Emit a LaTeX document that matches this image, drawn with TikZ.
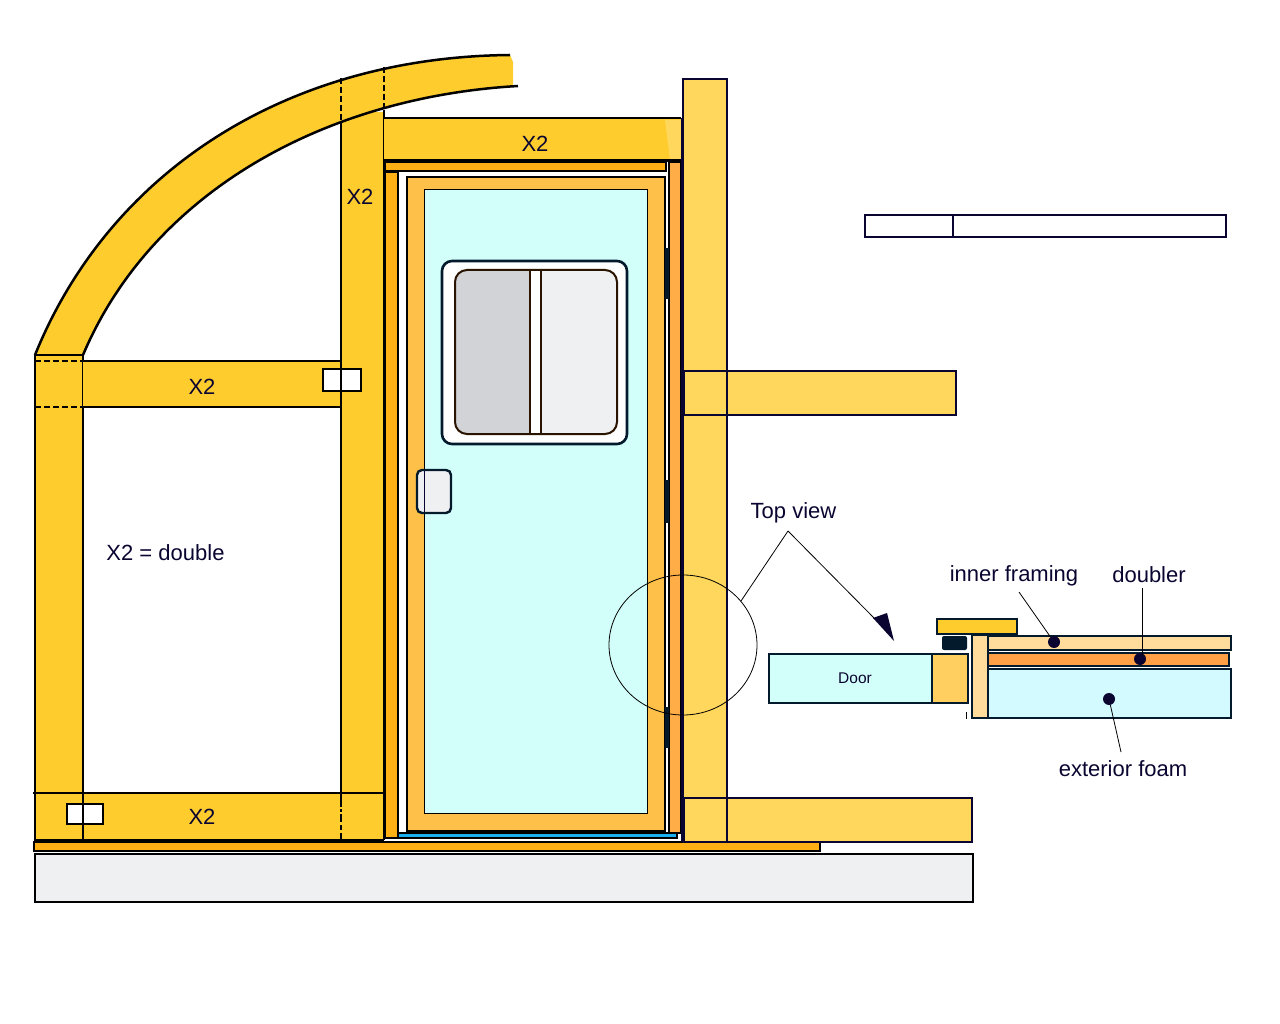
\documentclass[tikz,border=0pt]{standalone}
\usepackage{fontspec}
\setmainfont{Liberation Sans}
\usetikzlibrary{arrows.meta,shapes.geometric}
\definecolor{ink}{HTML}{0A0530}
\definecolor{deep}{HTML}{021A2C}
\definecolor{brownink}{HTML}{2A1400}
\definecolor{gold}{HTML}{FFCC2E}
\definecolor{paleyellow}{HTML}{FFD75C}
\definecolor{frameorange}{HTML}{FFC04A}
\definecolor{darkorange}{HTML}{FFB014}
\definecolor{midorange}{HTML}{FFAE47}
\definecolor{brightorange}{HTML}{FFA047}
\definecolor{aqua}{HTML}{D3FFFB}
\definecolor{foam}{HTML}{D3FBFF}
\definecolor{ltgray}{HTML}{EFF0F2}
\definecolor{dkgray}{HTML}{D1D3D7}
\definecolor{sky}{HTML}{1AB0F0}
\definecolor{peach}{HTML}{FFDC9C}
\definecolor{doorblock}{HTML}{FFD060}
\tikzset{
  lumber/.style={draw=black,line width=2.3pt,fill=gold},
  paleboard/.style={draw=ink,line width=2.2pt,fill=paleyellow},
  hidden/.style={draw=black,line width=1.5pt,dash pattern=on 6pt off 3pt},
  lab/.style={text=ink,font=\fontsize{22}{24}\selectfont,inner sep=0pt},
  leader/.style={draw=black,line width=0.8pt},
  detail/.style={draw=deep,line width=2.2pt},
  dot/.style={circle,fill=ink,draw=none,minimum size=12pt,inner sep=0pt}
}
\begin{document}
\begin{tikzpicture}[x=1pt,y=-1pt]
\useasboundingbox (0,0) rectangle (1280,1024);
% slab and floor strip
\draw[draw=black,line width=2.2pt,fill=ltgray] (35,854) rectangle (973,902);
\draw[draw=black,line width=2.2pt,fill=darkorange] (34,842) rectangle (820,851);
% arch fill
\fill[gold] (35,355) .. controls (110,170) and (288,57) .. (510,55) -- (513,62) -- (513,86)
  .. controls (325,97) and (152,192) .. (83,355) -- cycle;
% left post and rails
\draw[lumber] (35,355) rectangle (83,840);
\fill[gold] (83,361) rectangle (341,407);
\draw[black,line width=2.3pt] (83,361) -- (341,361) (83,407) -- (341,407);
\draw[hidden] (35,361) -- (83,361) (35,407) -- (83,407);
% stud
\fill[gold] (341,112) rectangle (384,840);
\draw[black,line width=2.3pt] (341,125) -- (341,793) (384,110) -- (384,840);
\draw[hidden] (341,78) -- (341,125) (384,67) -- (384,110);
% arch outline
\draw[black,line width=2.5pt] (35,355) .. controls (110,170) and (288,57) .. (510,55);
\draw[black,line width=2.5pt] (83,355) .. controls (152,192) and (325,97) .. (518,86);
% bottom rail
\fill[gold] (35,793) rectangle (384,840);
\draw[black,line width=2.3pt] (33,793) -- (384,793) (35,793) -- (35,840) (83,793) -- (83,840) (384,793) -- (384,840);
\draw[black,line width=2.8pt] (35,840) -- (384,840);
\draw[black,line width=1.5pt,dash pattern=on 14pt off 2pt on 3pt off 2pt on 8pt off 3pt on 5pt off 3pt] (341,793) -- (341,840);
% small white tabs
\draw[draw=black,line width=2.3pt,fill=white] (323,369) rectangle (361,391);
\draw[black,line width=2.3pt] (341,369) -- (341,391);
\draw[draw=black,line width=2.3pt,fill=white] (67,804) rectangle (103,824);
\draw[black,line width=2.3pt] (83,804) -- (83,824);
% header
\fill[gold] (384,118) rectangle (681,161);
\fill[paleyellow] (665,120) -- (681,120) -- (681,160) -- (670,160) -- cycle;
\draw[black,line width=2.3pt] (384,118) -- (681,118);
\draw[black,line width=3pt] (384,161) -- (681,161);
% jambs
\draw[draw=black,line width=2.2pt,fill=darkorange] (385,162) rectangle (666,171);
\draw[draw=black,line width=2.2pt,fill=darkorange] (385,172) rectangle (398,838);
\draw[draw=black,line width=2.2pt,fill=midorange] (669,162) rectangle (681,833);
% threshold
\draw[draw=black,line width=1.5pt,fill=sky] (398.5,833) rectangle (677,838);
% door
\draw[draw=black,line width=2.5pt,fill=frameorange] (407,177) rectangle (665,831);
\draw[draw=black,line width=1pt,fill=aqua] (424,190) rectangle (647.5,813);
% hinges
\fill[deep] (665,248) rectangle (669,299);
\fill[deep] (665,480) rectangle (669,523);
\fill[deep] (665,707) rectangle (669,748);
% tall post and its rails
\draw[paleboard] (683,79) rectangle (727,840);
\draw[paleboard] (684,371) rectangle (956,415);
\draw[draw=ink,line width=2.2pt] (727,371) -- (727,415);
\draw[paleboard] (684,798) rectangle (972,842);
\draw[draw=ink,line width=2.2pt] (727,798) -- (727,842);
\draw[draw=ink,line width=3.5pt] (682.5,118) -- (682.5,842);
% window
\draw[draw=deep,line width=2.6pt,fill=white,rounded corners=10pt] (442,261) rectangle (627,444);
\draw[draw=none,fill=ltgray,rounded corners=12pt] (455,270) rectangle (617,434);
\begin{scope}
\clip (455,260) rectangle (530,440);
\fill[dkgray,rounded corners=12pt] (455,270) rectangle (617,434);
\end{scope}
\draw[draw=brownink,line width=2pt,fill=white] (530,270) rectangle (541,434);
\draw[draw=brownink,line width=2pt,rounded corners=12pt] (455,270) rectangle (617,434);
% handle
\draw[draw=deep,line width=2.4pt,fill=ltgray,rounded corners=5pt] (417,470) rectangle (451,513);
\draw[ink,line width=0.8pt] (424.5,471) -- (424.5,512);
% upper right board
\draw[draw=ink,line width=2.2pt,fill=white] (865,215) rectangle (1226,237);
\draw[ink,line width=2.2pt] (953,215) -- (953,237);
% top view detail
\draw[detail,fill=gold] (937,619) rectangle (1017,634);
\fill[deep,rounded corners=2pt] (942,636) rectangle (967,650);
\draw[detail,fill=aqua] (769,654) rectangle (932,703);
\draw[detail,fill=doorblock,line width=2.8pt] (932,654) rectangle (968,703);
\draw[detail,fill=peach] (972,635) rectangle (988,718);
\draw[detail,fill=peach] (988,636) rectangle (1231,650);
\draw[detail,fill=brightorange] (988,653) rectangle (1229,666);
\draw[detail,fill=foam] (988,669) rectangle (1231,718);
\draw[black,line width=1pt] (966,712) -- (966,719);
% labels
\node[lab] (xa) at (535,144) {X2};
\node[lab] (xb) at (360,197) {X2};
\node[lab] (xc) at (202,387) {X2};
\node[lab] (xd) at (202,817) {X2};
\node[lab] (xdef) at (165.5,553) {X2 = double};
\node[lab] (topview) at (793.5,513) {Top view};
\node[lab] (inner) at (1014,576) {inner framing};
\node[lab] (doubler) at (1149,575) {doubler};
\node[lab] (foamlab) at (1123,769) {exterior foam};
\node[text=ink,font=\fontsize{15.5}{18}\selectfont,inner sep=0pt] (doorlab) at (855,678) {Door};
% circle and leaders
\node[draw=black,line width=0.8pt,ellipse,minimum width=148pt,minimum height=140pt,inner sep=0pt,fill=none] (zoomring) at (683,645) {};
\coordinate (apex) at (788,531);
\coordinate (ringpt) at (741,601);
\coordinate (tip) at (894,641);
\draw[leader] (apex) -- (ringpt);
\draw[leader] (apex) -- (875,619);
\fill[ink] (tip) -- (873,618) -- (887,613) -- cycle;
\node[dot] (d1) at (1054,642) {};
\node[dot] (d2) at (1140,659) {};
\node[dot] (d3) at (1109,699) {};
\coordinate (l1) at (1019,592);
\coordinate (l2) at (1142,588);
\coordinate (l3) at (1121,752);
\draw[leader] (l1) -- (d1);
\draw[leader] (l2) -- (1142,655);
\draw[leader] (d3) -- (l3);
\end{tikzpicture}
\end{document}
